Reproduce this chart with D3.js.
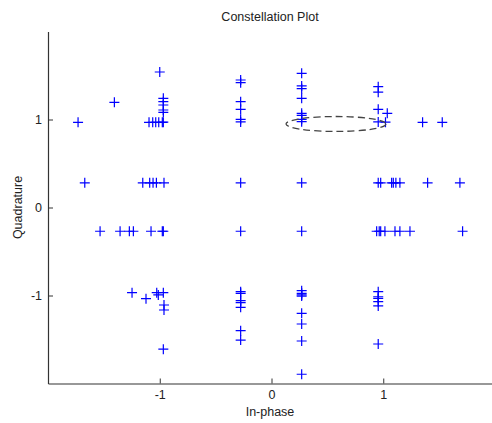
<!DOCTYPE html>
<html>
<head>
<meta charset="utf-8">
<script src="https://cdn.jsdelivr.net/npm/d3@7"></script>
<style>
  html, body { margin: 0; padding: 0; background: #fff; }
  svg { display: block; }
  text { font-family: "Liberation Sans", Arial, sans-serif; fill: #222; }
</style>
</head>
<body>
<script>
// Received symbols: in-phase / quadrature pairs
const inPhase = [
  // upper row
  -1.731, -1.406, -1.0, -1.096, -1.063, -1.036, -1.009, -0.977,
  -0.968, -0.968, -0.968, -0.968, -0.968, -0.968,
  -0.276, -0.276, -0.276, -0.276, -0.276, -0.276,
  0.27, 0.27, 0.27, 0.27, 0.27, 0.27, 0.27, 0.27,
  0.955, 0.955, 0.955, 0.955, 1.036, 1.02, 1.352, 1.528,
  // row near +0.28
  -1.671, -1.152, -1.09, -1.06, -1.03, -0.962, -0.276, 0.27,
  0.955, 0.977, 1.075, 1.09, 1.113, 1.149, 1.397, 1.686,
  // row near -0.28
  -1.534, -1.355, -1.272, -1.236, -1.078, -0.977, -0.968, -0.276, 0.27,
  0.941, 0.964, 0.977, 1.015, 1.105, 1.149, 1.239, 1.71,
  // lower row
  -1.248, -1.123, -1.027, -1.013, -0.968, -0.962, -0.962, -0.968,
  -0.276, -0.276, -0.276, -0.276, -0.276, -0.276, -0.276,
  0.27, 0.27, 0.27, 0.27, 0.27, 0.27, 0.27, 0.27,
  0.955, 0.955, 0.955, 0.955, 0.955, 0.955
];
const quadrature = [
  0.968, 1.195, 1.54, 0.968, 0.968, 0.968, 0.968, 0.968,
  1.241, 1.203, 1.165, 1.108, 1.082, 0.97,
  1.449, 1.418, 1.202, 1.116, 1.002, 0.972,
  1.525, 1.381, 1.35, 1.241, 1.07, 1.048, 1.002, 0.975,
  1.373, 1.31, 1.116, 0.972, 1.07, 0.97, 0.968, 0.968,
  0.28, 0.28, 0.28, 0.28, 0.28, 0.28, 0.28, 0.28,
  0.28, 0.28, 0.28, 0.28, 0.28, 0.28, 0.28, 0.28,
  -0.27, -0.27, -0.27, -0.27, -0.27, -0.27, -0.27, -0.27, -0.27,
  -0.27, -0.27, -0.27, -0.27, -0.27, -0.27, -0.27, -0.27,
  -0.968, -1.036, -0.968, -0.994, -0.968, -1.108, -1.165, -1.61,
  -0.957, -0.975, -1.059, -1.082, -1.134, -1.4, -1.506,
  -0.945, -0.975, -0.994, -1.006, -1.202, -1.324, -1.517, -1.895,
  -0.957, -1.014, -1.032, -1.07, -1.119, -1.551
];
const xTicks = [-1, 0, 1];
const yTicks = [-1, 0, 1];
const axisDomain = [-2, 2];
// Highlighted region (centre I/Q and radii)
const ellipseCenter = [0.577, 0.949];
const ellipseRadii = [0.447, 0.085];

const width = 492, height = 423;
const plotLeft = 48, plotRight = 495, plotTop = 31.5, plotBottom = 383.5;
const fontSize = 12.5;

const svg = d3.select("body").append("svg")
  .attr("width", width).attr("height", height);

const x = d3.scaleLinear().domain(axisDomain).range([plotLeft, plotRight]);
const y = d3.scaleLinear().domain(axisDomain).range([plotBottom, plotTop]);

// Plain hyphen-minus labels
const fmt = d => String(d);

const xAxis = svg.append("g")
  .attr("transform", `translate(0,${plotBottom})`)
  .call(d3.axisBottom(x).tickValues(xTicks).tickFormat(fmt)
    .tickSizeInner(-5).tickSizeOuter(0).tickPadding(7));
const yAxis = svg.append("g")
  .attr("transform", `translate(${plotLeft},0)`)
  .call(d3.axisLeft(y).tickValues(yTicks).tickFormat(fmt)
    .tickSizeInner(-5).tickSizeOuter(0).tickPadding(6));

[xAxis, yAxis].forEach(g => {
  g.select(".domain").attr("stroke", "#333").attr("stroke-width", 1.2);
  g.selectAll(".tick line").attr("stroke", "#333");
  g.selectAll(".tick text").attr("font-size", fontSize)
    .attr("font-family", "Liberation Sans, Arial, sans-serif").attr("fill", "#222");
});

// Plus markers
const points = inPhase.map((v, i) => [v, quadrature[i]]);
const half = 5;
svg.append("g").selectAll("path").data(points).join("path")
  .attr("d", d => {
    const px = x(d[0]), py = y(d[1]);
    return `M${px - half},${py}H${px + half}M${px},${py - half}V${py + half}`;
  })
  .attr("stroke", "#0000ff").attr("stroke-width", 1.2).attr("fill", "none");

// Dashed ellipse
svg.append("ellipse")
  .attr("cx", x(ellipseCenter[0])).attr("cy", y(ellipseCenter[1]))
  .attr("rx", x(ellipseCenter[0] + ellipseRadii[0]) - x(ellipseCenter[0]))
  .attr("ry", y(ellipseCenter[1]) - y(ellipseCenter[1] + ellipseRadii[1]))
  .attr("fill", "none").attr("stroke", "#444").attr("stroke-width", 1.3)
  .attr("stroke-dasharray", "7,4");

// Titles
svg.append("text").attr("x", 270).attr("y", 21).attr("text-anchor", "middle")
  .attr("font-size", fontSize).text("Constellation Plot");
svg.append("text").attr("x", 270).attr("y", 416).attr("text-anchor", "middle")
  .attr("font-size", fontSize).text("In-phase");
svg.append("text").attr("transform", `translate(21.5,${(plotTop + plotBottom) / 2}) rotate(-90)`)
  .attr("text-anchor", "middle").attr("font-size", fontSize).text("Quadrature");
</script>
</body>
</html>
